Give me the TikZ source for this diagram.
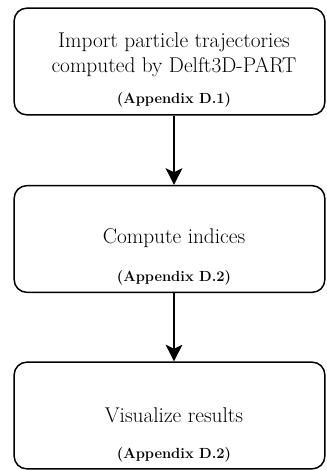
\documentclass[tikz,border=0pt]{standalone}
\usetikzlibrary{arrows.meta}
\tikzset{
  stepbox/.style={draw,line width=1.1pt,rounded corners=9.5pt,
    minimum width=233pt,minimum height=80pt,inner sep=0pt},
  steptext/.style={align=center,font=\fontsize{16}{18.5}\selectfont},
  appref/.style={font=\fontsize{11}{13}\selectfont\bfseries},
  flow/.style={line width=1.1pt,-{Stealth[length=12.5pt,width=12.5pt,inset=3pt]}}
}
\begin{document}
\begin{tikzpicture}[x=0.75pt,y=-0.75pt]
  \useasboundingbox (0,0) rectangle (326,470);

  % import
  \node[stepbox] (import) at (169.5,61.5) {};
  \node[steptext] (importtxt) at (174,55)
    {Import particle trajectories\\computed by Delft3D-PART};
  \node[appref] (importref) at (174,100) {(Appendix D.1)};

  % compute
  \node[stepbox] (compute) at (169.5,239) {};
  \node[steptext] (computetxt) at (174,238) {Compute indices};
  \node[appref] (computeref) at (174,278) {(Appendix D.2)};

  % visualize
  \node[stepbox] (visual) at (169.5,415.5) {};
  \node[steptext] (visualtxt) at (174,415) {Visualize results};
  \node[appref] (visualref) at (174,455) {(Appendix D.2)};

  \draw[flow] (importref |- import.south) -- (importref |- compute.north);
  \draw[flow] (computeref |- compute.south) -- (computeref |- visual.north);
\end{tikzpicture}
\end{document}
